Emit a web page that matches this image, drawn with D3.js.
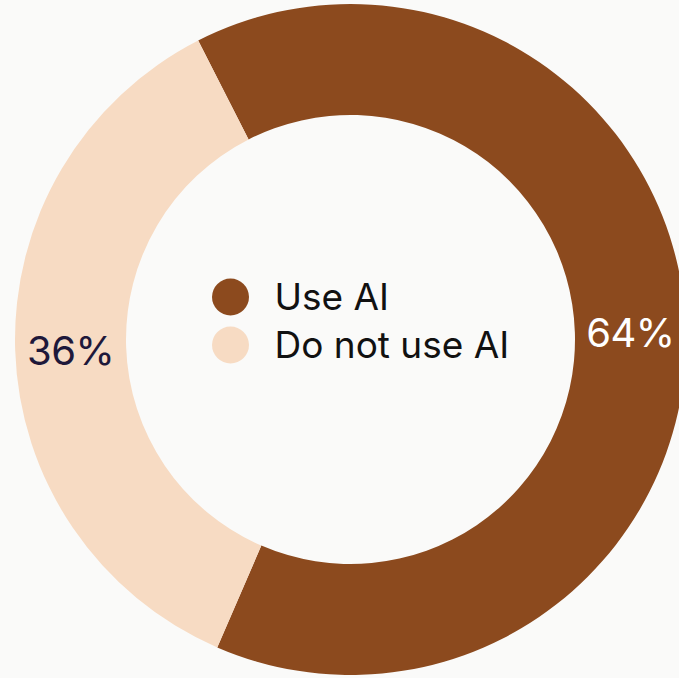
<!DOCTYPE html>
<html>
<head>
<meta charset="utf-8">
<script src="https://cdn.jsdelivr.net/npm/d3@7"></script>
<style>
  html, body { margin: 0; padding: 0; background: #fafaf9; }
  svg { display: block; }
  text { font-family: "Inter", "Lato", sans-serif; }
</style>
</head>
<body>
<svg id="chart" width="679" height="678"></svg>
<script>
// Share of respondents by AI usage
const categories = ["Use AI", "Do not use AI"];
const values = [64, 36];
const colors = ["#8c4a1e", "#f7dbc3"];
const labelColors = ["#ffffff", "#1e183a"];

const width = 679, height = 678;
const cx = 350.5, cy = 339.5;
const outerR = 335.5, innerR = 224.5;
const startDeg = -27;

const svg = d3.select("#chart");
svg.append("rect").attr("width", width).attr("height", height).attr("fill", "#fafaf9");

const data = categories.map((c, i) => ({ name: c, value: values[i], color: colors[i], label: labelColors[i] }));

const pie = d3.pie()
  .value(d => d.value)
  .sort(null)
  .startAngle(startDeg * Math.PI / 180)
  .endAngle((startDeg + 360) * Math.PI / 180);

const arc = d3.arc().innerRadius(innerR).outerRadius(outerR);

const g = svg.append("g").attr("transform", `translate(${cx},${cy})`);
const arcs = pie(data);

g.selectAll("path.slice")
  .data(arcs)
  .join("path")
  .attr("class", "slice")
  .attr("d", arc)
  .attr("fill", d => d.data.color);

g.selectAll("text.pct")
  .data(arcs)
  .join("text")
  .attr("class", "pct")
  .attr("transform", d => `translate(${arc.centroid(d)})`)
  .attr("text-anchor", "middle")
  .attr("dy", "0.41em")
  .attr("font-size", 40)
  .attr("letter-spacing", -0.5)
  .attr("fill", d => d.data.label)
  .text(d => d.data.value + "%");

// Legend in the hole
const legend = svg.append("g").attr("transform", "translate(230.5,0)");
const rowY = [297, 345];
const items = legend.selectAll("g.item")
  .data(data)
  .join("g")
  .attr("class", "item")
  .attr("transform", (d, i) => `translate(0,${rowY[i]})`);

items.append("circle")
  .attr("r", 18.5)
  .attr("fill", d => d.color);

items.append("text")
  .attr("x", 44)
  .attr("dy", "0.36em")
  .attr("font-size", 37)
  .attr("fill", "#111111")
  .text(d => d.name);
</script>
</body>
</html>
